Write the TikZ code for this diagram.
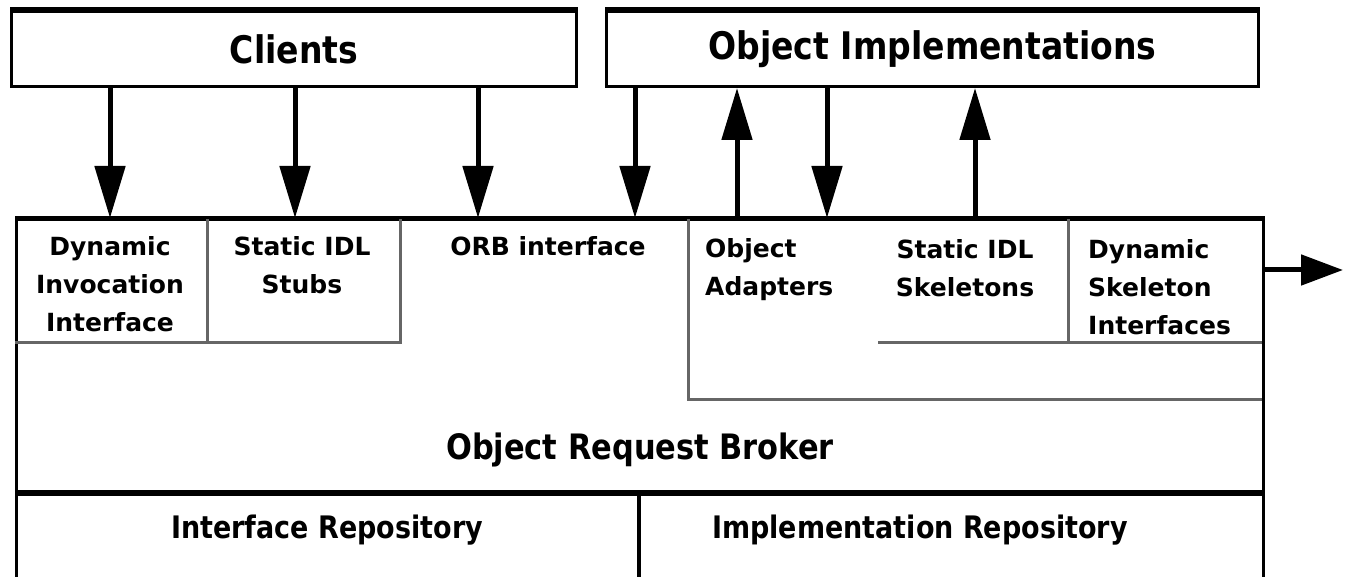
\documentclass[tikz,border=0pt]{standalone}
\usepackage{fontspec}
\setmainfont{DejaVu Sans}
\newfontfamily\headfont[FakeStretch=0.87]{DejaVu Sans}
\usetikzlibrary{arrows.meta}

\begin{document}
\begin{tikzpicture}[x=1pt,y=-1pt,
  frame/.style={draw=black, line width=3pt, inner sep=0pt, anchor=north west},
  cellline/.style={draw=black!60, line width=3pt},
  flow/.style={line width=5pt, -{Triangle[length=52pt,width=30pt]}},
  head/.style={font=\headfont\bfseries\fontsize{38}{40}\selectfont},
  sub/.style={font=\headfont\bfseries\fontsize{35}{40}\selectfont},
  repo/.style={font=\headfont\bfseries\fontsize{31}{36}\selectfont},
  cell/.style={font=\bfseries\fontsize{25}{38}\selectfont, align=center, inner sep=0pt},
  lcell/.style={cell, align=left, anchor=west}
]
\useasboundingbox (0,0) rectangle (1345,577);

% upper boxes
\node[frame, minimum width=565pt, minimum height=75pt, head] (clients) at (10,10) {Clients};
\node[frame, minimum width=652pt, minimum height=75pt, head] (objimpl) at (605,10) {Object Implementations};
\draw[line width=6pt] (clients.north west) -- (clients.north east);
\draw[line width=6pt] (objimpl.north west) -- (objimpl.north east);

% broker and repositories
\node[frame, minimum width=1247pt, minimum height=272pt] (orb) at (15,218) {};
\node[frame, minimum width=623pt, minimum height=100pt] (irepobox) at (15,490) {};
\node[frame, minimum width=624pt, minimum height=100pt] (implbox) at (638,490) {};
\draw[line width=2pt] (implbox.north west) -- (implbox.south west);
\draw[line width=6pt] (orb.south west) -- (orb.south east);

% interior partitions of the broker
\draw[cellline] (15,343) -- (400,343) -- (400,218);
\draw[cellline] (207,218) -- (207,343);
\draw[cellline] (688,218) -- (688,400) -- (1262,400);
\draw[cellline] (878,343) -- (1262,343);
\draw[cellline] (1068,218) -- (1068,343);
\draw[line width=3pt] (orb.north west) -- (orb.north east);

% labels
\node[cell] (dii) at (110,284) {Dynamic\\Invocation\\Interface};
\node[cell] (stubs) at (302,265) {Static IDL\\Stubs};
\node[cell] (orbif) at (548,246) {ORB interface};
\node[lcell] (adapters) at (705,270) {Object\\Adapters};
\node[cell] (skel) at (965,268) {Static IDL\\Skeletons};
\node[lcell] (dsi) at (1088,287) {Dynamic\\Skeleton\\Interfaces};
\node[sub] (broker) at (640,450) {Object Request Broker};
\node[repo] (irepo) at (327,530) {Interface Repository};
\node[repo] (impl) at (920,530) {Implementation Repository};

% attachment points on the broker's top edge
\coordinate (p1) at (110,218);
\coordinate (p2) at (295,218);
\coordinate (p3) at (478,218);
\coordinate (p4) at (635,218);
\coordinate (p5) at (737,218);
\coordinate (p6) at (827,218);
\coordinate (p7) at (975,218);
\coordinate (out) at (1343,270);

% requests and upcalls
\draw[flow] (clients.south -| p1) -- (p1);
\draw[flow] (clients.south -| p2) -- (p2);
\draw[flow] (clients.south -| p3) -- (p3);
\draw[flow] (objimpl.south -| p4) -- (p4);
\draw[flow] (p5) -- (objimpl.south -| p5);
\draw[flow] (objimpl.south -| p6) -- (p6);
\draw[flow] (p7) -- (objimpl.south -| p7);
\draw[flow, -{Triangle[length=42pt,width=30pt]}] (orb.east |- out) -- (out);
\end{tikzpicture}
\end{document}
